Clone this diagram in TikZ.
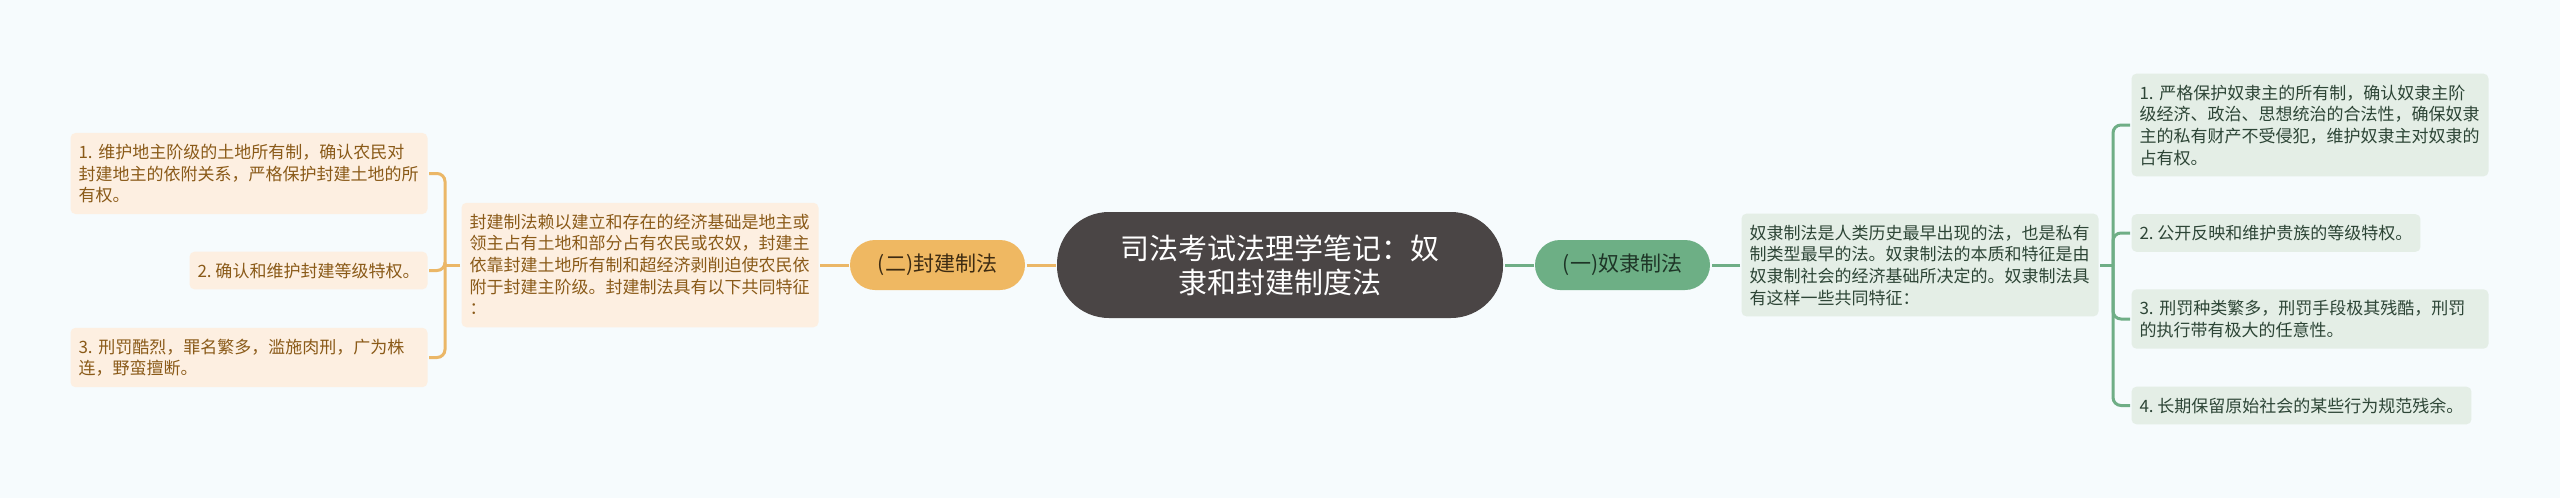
\documentclass[tikz,border=0pt]{standalone}
\usepackage{fontspec}
\newfontfamily\cjk{Noto Sans CJK SC}
\usetikzlibrary{backgrounds}
\frenchspacing
\definecolor{bgpaper}{HTML}{F6FBFD}
\definecolor{rootfill}{HTML}{4A4545}
\definecolor{fengline}{HTML}{EBB767}
\definecolor{fengfill}{HTML}{EFB862}
\definecolor{fengleaf}{HTML}{FDEFE1}
\definecolor{fengtext}{HTML}{8A5A18}
\definecolor{fengdark}{HTML}{3D2B12}
\definecolor{nuline}{HTML}{6FAE86}
\definecolor{nufill}{HTML}{6DAF85}
\definecolor{nuleaf}{HTML}{E4EEE6}
\definecolor{nutext}{HTML}{2D4536}
\definecolor{nudark}{HTML}{1E3527}
\newcommand{\ls}{\rule[-4.3pt]{0pt}{21.7pt}}

\begin{document}
\begin{tikzpicture}[x=1pt,y=-1pt,line width=3pt]
        %
        % `root' is the title in the middle, `branch' the two law pills.
        % `feng' and `nu' are the text boxes of each side, `wide' for the wrapped ones.
        \tikzstyle{root} = [fill=rootfill,text=white,rounded corners=52pt,minimum width=446pt,minimum height=106pt,align=center,font=\cjk\fontsize{29}{34}\selectfont]
        \tikzstyle{branch} = [rounded corners=25pt,minimum width=175pt,minimum height=50pt,font=\cjk\fontsize{21}{25}\selectfont]
        \tikzstyle{leaf} = [rounded corners=5pt,align=left,inner xsep=8pt,inner ysep=8pt,font=\cjk\fontsize{17}{21.7}\selectfont\frenchspacing,execute at begin node=\ls,execute at end node=\ls]
        \tikzstyle{wide} = [text width=341pt]
        \tikzstyle{feng} = [leaf,fill=fengleaf,text=fengtext]
        \tikzstyle{nu} = [leaf,fill=nuleaf,text=nutext]
        %
        % Paper
        \path[fill=bgpaper,use as bounding box] (0,0) rectangle (2560,498);
        %
        % Root
        \node[root] (title) at (1280,265) {司法考试法理学笔记：奴\\隶和封建制度法};
        %
        % Left branch
        \node[branch,fill=fengfill,text=fengdark] (feng) at (937.5,265) {(二)封建制法} edge [-,fengline] (title);
        \node[feng,wide] (fengdesc) at (640,265) {封建制法赖以建立和存在的经济基础是地主或\\领主占有土地和部分占有农民或农奴，封建主\\依靠封建土地所有制和超经济剥削迫使农民依\\附于封建主阶级。封建制法具有以下共同特征\\：} edge [-,fengline] (feng);
        \coordinate (fengfork) at (445,265);
        \draw[fengline] (fengdesc) -- (fengfork);
        %
        % Left leaves
        \node[feng,wide,anchor=east] (feng1) at (429,173.5) {1. 维护地主阶级的土地所有制，确认农民对\\封建地主的依附关系，严格保护封建土地的所\\有权。};
        \node[feng,anchor=east] (feng2) at (429,270.5) {2. 确认和维护封建等级特权。};
        \node[feng,wide,anchor=east] (feng3) at (429,357.5) {3. 刑罚酷烈，罪名繁多，滥施肉刑，广为株\\连，野蛮擅断。};
        \draw[fengline,rounded corners=8pt] (fengfork) |- (feng1.east);
        \draw[fengline,rounded corners=8pt] (fengfork) |- (feng2.east);
        \draw[fengline,rounded corners=8pt] (fengfork) |- (feng3.east);
        %
        % Right branch
        \node[branch,fill=nufill,text=nudark] (nu) at (1622.5,265) {(一)奴隶制法} edge [-,nuline] (title);
        \node[nu,wide] (nudesc) at (1920,265) {奴隶制法是人类历史最早出现的法，也是私有\\制类型最早的法。奴隶制法的本质和特征是由\\奴隶制社会的经济基础所决定的。奴隶制法具\\有这样一些共同特征：} edge [-,nuline] (nu);
        \coordinate (nufork) at (2113,265);
        \draw[nuline] (nudesc) -- (nufork);
        %
        % Right leaves
        \node[nu,wide,anchor=west] (nu1) at (2130,125) {1. 严格保护奴隶主的所有制，确认奴隶主阶\\级经济、政治、思想统治的合法性，确保奴隶\\主的私有财产不受侵犯，维护奴隶主对奴隶的\\占有权。};
        \node[nu,anchor=west] (nu2) at (2130,233) {2. 公开反映和维护贵族的等级特权。};
        \node[nu,wide,anchor=west] (nu3) at (2130,319) {3. 刑罚种类繁多，刑罚手段极其残酷，刑罚\\的执行带有极大的任意性。};
        \node[nu,anchor=west] (nu4) at (2130,405.5) {4. 长期保留原始社会的某些行为规范残余。};
        \draw[nuline,rounded corners=8pt] (nufork) |- (nu1.west);
        \draw[nuline,rounded corners=8pt] (nufork) |- (nu2.west);
        \draw[nuline,rounded corners=8pt] (nufork) |- (nu3.west);
        \draw[nuline,rounded corners=8pt] (nufork) |- (nu4.west);
        %
\end{tikzpicture}
\end{document}
